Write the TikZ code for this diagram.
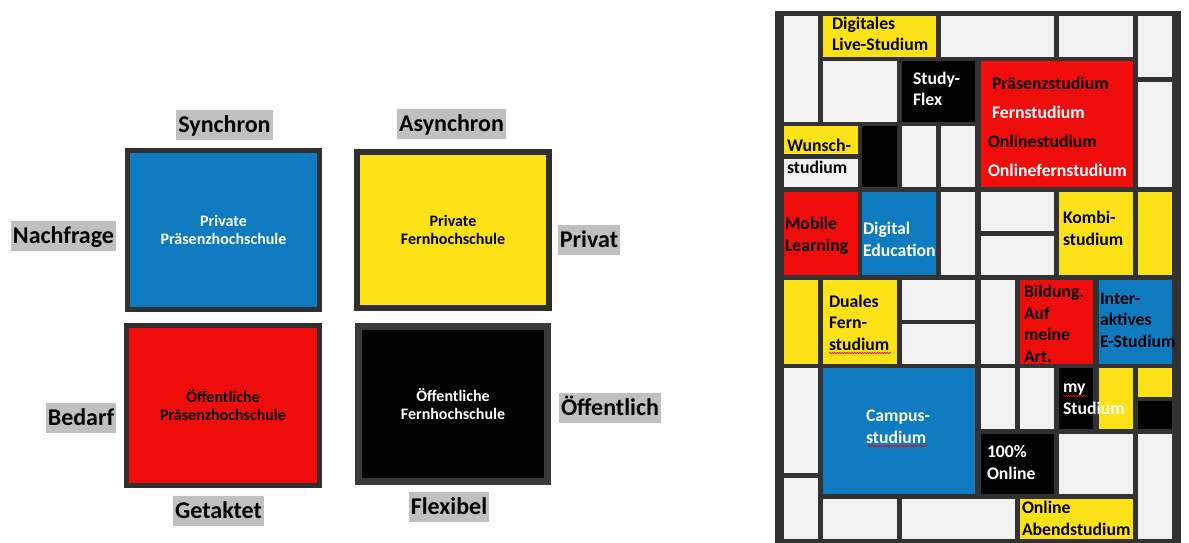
\documentclass[tikz,border=0pt]{standalone}
\usepackage{fontspec}
\setmainfont{Carlito}
\usetikzlibrary{decorations.pathmorphing}
\definecolor{mblue}{RGB}{14,123,193}
\definecolor{myellow}{RGB}{252,226,22}
\definecolor{mred}{RGB}{241,12,12}
\definecolor{mframe}{RGB}{50,50,50}
\definecolor{mwhite}{RGB}{242,242,242}
\definecolor{lblgray}{RGB}{192,192,192}
\definecolor{qborder}{RGB}{47,47,47}
\definecolor{qborderb}{RGB}{58,58,58}
\newcommand{\mcell}[6]{\node[mcellst, fill=#6, minimum width={#4-#2}, minimum height={#5-#3}] (#1) at (#2,#3) {};}
\begin{document}
\begin{tikzpicture}[x=1pt,y=-1pt,
  lbl/.style={fill=lblgray, inner xsep=2pt, inner ysep=0pt, text height=22pt, text depth=7.5pt, font=\fontsize{24}{28}\selectfont\bfseries, anchor=north},
  quad/.style={inner sep=0pt, align=center, font=\fontsize{16}{18}\selectfont\bfseries},
  mcellst/.style={inner sep=0pt, outer sep=0pt, anchor=north west},
  mtxt/.style={inner sep=0pt, outer sep=0pt, align=left, anchor=base west, font=\fontsize{17.7}{21.5}\selectfont\bfseries},
  squig/.style={draw=red, line width=0.6pt, decorate, decoration={snake, amplitude=0.7pt, segment length=2.5pt}}
]
\useasboundingbox (0,0) rectangle (1189,543);

% ---- left: four quadrants ----
\node[quad, fill=mblue, draw=qborder, line width=5pt, minimum width=192pt, minimum height=159pt, text=white] (pp) at (223.5,230) {Private\\Präsenzhochschule};
\node[quad, fill=myellow, draw=qborder, line width=6pt, minimum width=192pt, minimum height=156pt, text=black] (pf) at (453,230) {Private\\Fernhochschule};
\node[quad, fill=mred, draw=qborder, line width=5pt, minimum width=193pt, minimum height=160pt, text=black] (op) at (223,405.5) {Öffentliche\\Präsenzhochschule};
\node[quad, fill=black, draw=qborderb, line width=7pt, minimum width=189pt, minimum height=155pt, text=white] (of) at (453,404) {Öffentliche\\Fernhochschule};

\node[lbl] (synchron) at (224.5,110) {Synchron};
\node[lbl] (asynchron) at (451.5,109) {Asynchron};
\node[lbl] (nachfrage) at (63.5,221) {Nachfrage};
\node[lbl] (privat) at (589,225) {Privat};
\node[lbl] (bedarf) at (81,403) {Bedarf};
\node[lbl] (oeffentlich) at (610,393) {Öffentlich};
\node[lbl] (getaktet) at (218.5,496) {Getaktet};
\node[lbl] (flexibel) at (449,492) {Flexibel};

% ---- right: Mondrian grid ----
\node[mcellst, fill=mframe, minimum width=406pt, minimum height=532pt] (frame) at (775,11) {};
\mcell{c1}{784}{16}{818}{122}{mwhite}
\mcell{c2}{823}{16}{936}{57}{myellow}
\mcell{c3}{941}{16}{1054}{57}{mwhite}
\mcell{c4}{1059}{16}{1133}{57}{mwhite}
\mcell{c5}{1138}{16}{1172}{77}{mwhite}
\mcell{c6}{823}{61}{897}{122}{mwhite}
\mcell{c7}{902}{61}{975}{122}{black}
\mcell{c8}{981}{61}{1133}{187}{mred}
\mcell{c9}{1138}{82}{1172}{187}{mwhite}
\mcell{c10}{784}{126}{858}{154}{myellow}
\mcell{c11}{784}{159}{858}{187}{mwhite}
\mcell{c12}{862}{126}{897}{187}{black}
\mcell{c13}{902}{126}{936}{187}{mwhite}
\mcell{c14}{941}{126}{975}{187}{mwhite}
\mcell{c15}{784}{192}{858}{275}{mred}
\mcell{c16}{862}{192}{936}{275}{mblue}
\mcell{c17}{941}{192}{975}{275}{mwhite}
\mcell{c18}{981}{192}{1054}{231}{mwhite}
\mcell{c19}{981}{236}{1054}{275}{mwhite}
\mcell{c20}{1059}{192}{1133}{275}{myellow}
\mcell{c21}{1138}{192}{1172}{275}{myellow}
\mcell{c22}{784}{280}{818}{364}{myellow}
\mcell{c23}{823}{280}{897}{364}{myellow}
\mcell{c24}{902}{280}{975}{320}{mwhite}
\mcell{c25}{902}{324}{975}{364}{mwhite}
\mcell{c26}{981}{280}{1015}{364}{mwhite}
\mcell{c27}{1020}{280}{1093}{364}{mred}
\mcell{c28}{1099}{280}{1172}{364}{mblue}
\mcell{c29}{784}{368}{818}{473}{mwhite}
\mcell{c30}{784}{478}{818}{539}{mwhite}
\mcell{c31}{823}{368}{975}{494}{mblue}
\mcell{c32}{981}{368}{1015}{429}{mwhite}
\mcell{c33}{1020}{368}{1054}{429}{mwhite}
\mcell{c34}{1059}{368}{1093}{429}{black}
\mcell{c35}{1099}{368}{1133}{429}{myellow}
\mcell{c36}{1138}{368}{1172}{397}{myellow}
\mcell{c37}{1138}{401}{1172}{429}{black}
\mcell{c38}{981}{434}{1054}{494}{black}
\mcell{c39}{1059}{434}{1133}{494}{mwhite}
\mcell{c40}{1138}{434}{1172}{539}{mwhite}
\mcell{c41}{823}{499}{897}{539}{mwhite}
\mcell{c42}{902}{499}{1015}{539}{mwhite}
\mcell{c43}{1020}{499}{1133}{539}{myellow}

% text nodes: anchor is the baseline of the last line
\node[mtxt] (tdigital) at (832,51) {Digitales\\Live-Studium};
\node[mtxt, text=white] (tstudy) at (913,106) {Study-\\Flex};
\node[mtxt, font=\fontsize{17.7}{29}\selectfont\bfseries] (tpraesenz) at (988,176) {\hspace*{4pt}Präsenzstudium\\\hspace*{4pt}\textcolor{white}{Fernstudium}\\Onlinestudium\\\textcolor{white}{Onlinefernstudium}};
\node[mtxt] (twunsch) at (787,173) {Wunsch-\\studium};
\node[mtxt] (tmobile) at (785,251) {Mobile\\Learning};
\node[mtxt, text=white] (tdigedu) at (863,256) {Digital\\Education};
\node[mtxt] (tkombi) at (1063,245) {Kombi-\\studium};
\node[mtxt] (tduales) at (829,350) {Duales\\Fern-\\studium};
\node[mtxt] (tbildung) at (1024,362) {Bildung.\\Auf\\meine\\Art.};
\node[mtxt] (tinter) at (1100,347) {Inter-\\aktives\\E-Studium};
\node[mtxt, text=white] (tcampus) at (866,443) {Campus-\\studium};
\node[mtxt, text=white] (tmy) at (1063,414) {my\\Studium};
\node[mtxt, text=white] (t100) at (987,479) {100\%\\Online};
\node[mtxt] (tabend) at (1022,535) {Online\\Abendstudium};

\draw[squig] (829,353) -- (891,353);
\draw[squig] (867,446) -- (927,446);
\draw[squig] (1063,396) -- (1085,396);
\end{tikzpicture}
\end{document}
